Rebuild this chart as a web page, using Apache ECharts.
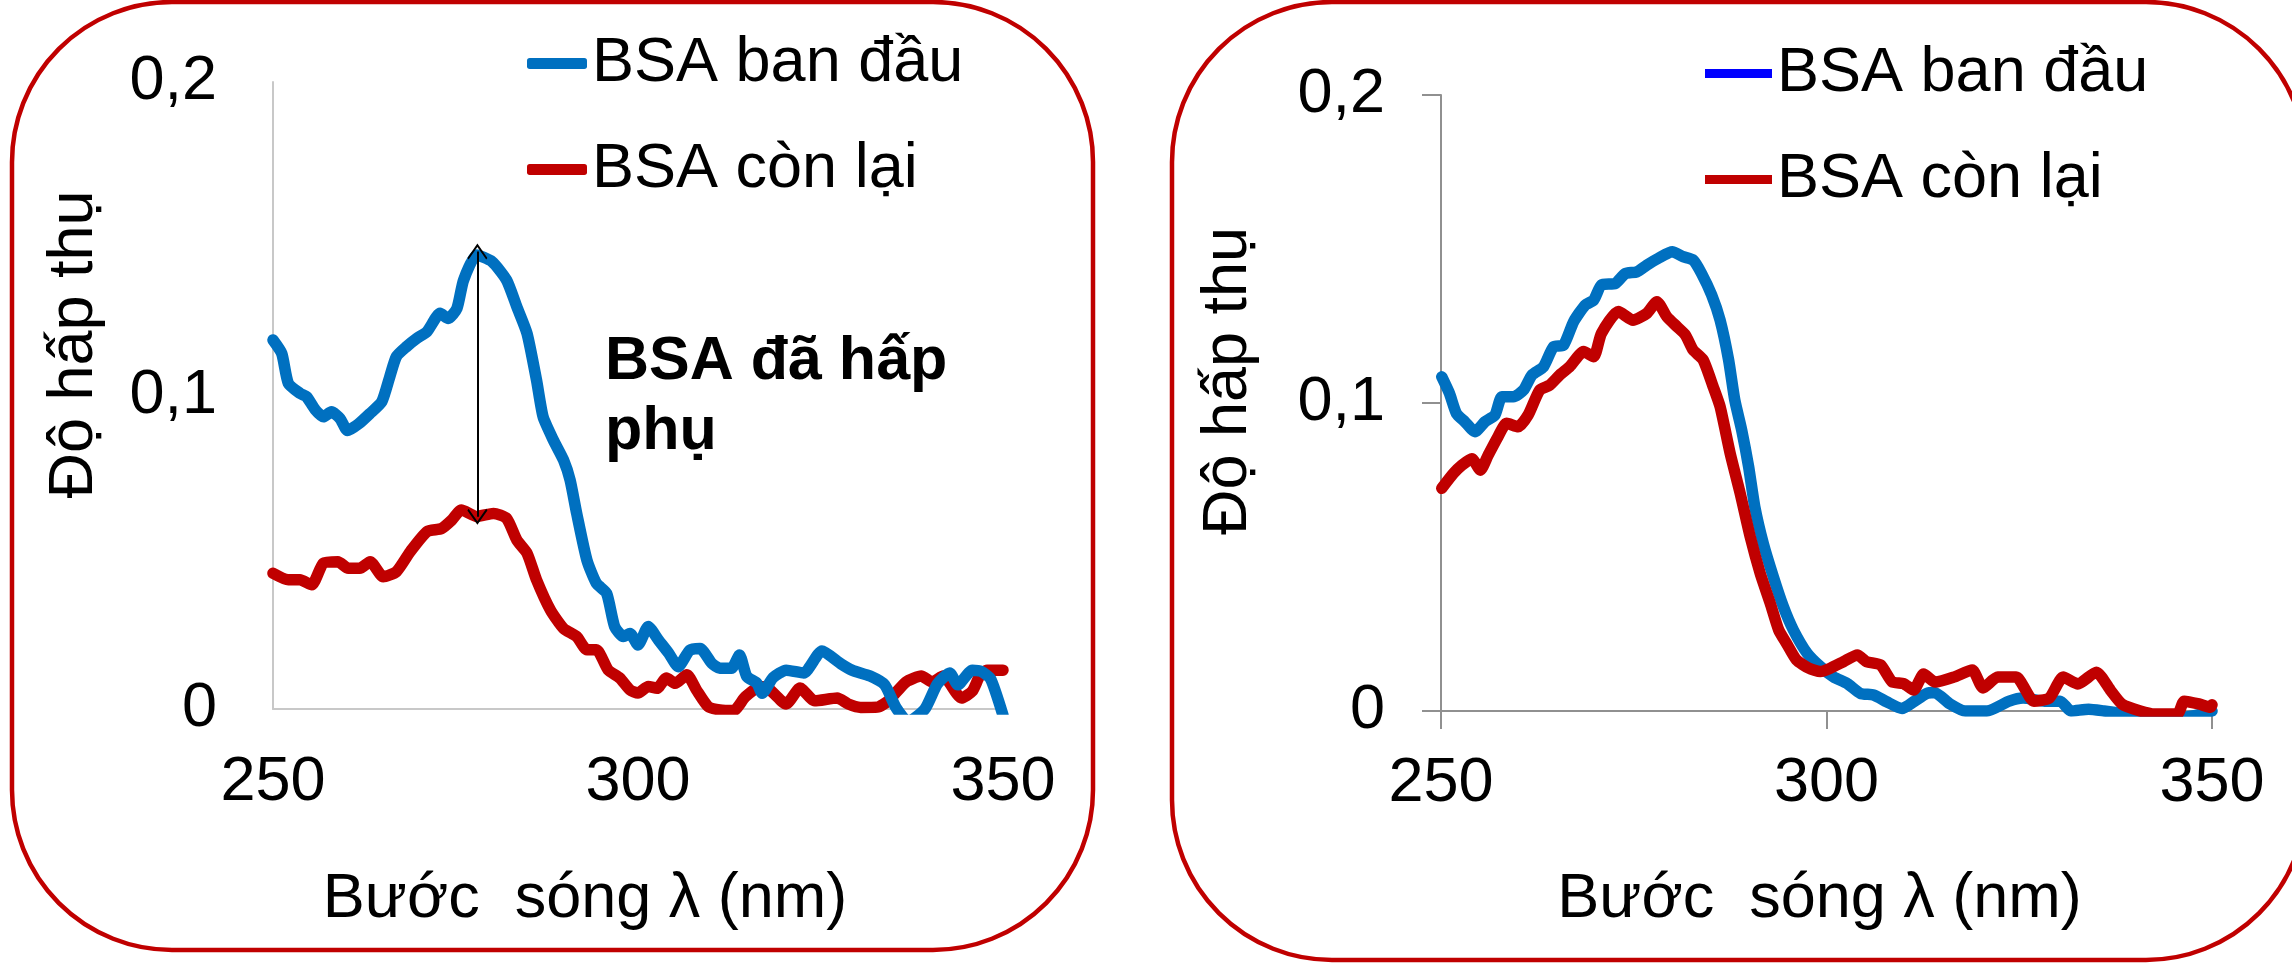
<!DOCTYPE html>
<html>
<head>
<meta charset="utf-8">
<script src="https://cdn.jsdelivr.net/npm/echarts@6/dist/echarts.min.js"></script>
<style>
html,body{margin:0;padding:0;background:#fff;}
#chart{width:2292px;height:968px;}
</style>
</head>
<body>
<div id="chart"></div>
<script>
// ---------- DATA ----------
const seriesNames = ['BSA ban đầu', 'BSA còn lại'];
const xTickLabels = ['250', '300', '350'];
const yTickLabels = ['0', '0,1', '0,2'];
const xAxisTitle = 'Bước  sóng λ (nm)';
const yAxisTitle = 'Độ hấp thụ';
const annotationText = 'BSA đã hấp\nphụ';

// Left panel – BSA ban đầu (wavelength nm, absorbance)
const leftBlueWl = [250.0,251.2,252.1,253.7,254.6,255.8,256.9,258.0,259.2,260.2,261.7,263.3,264.9,266.0,266.9,268.3,269.7,271.1,272.9,274.0,275.2,276.1,277.9,280.0,282.0,283.4,284.8,286.1,287.0,288.4,289.8,290.7,291.6,293.0,294.3,295.7,296.8,298.0,298.9,300.0,301.4,302.8,304.2,305.5,307.1,308.5,310.1,311.2,312.8,313.9,314.9,316.3,317.0,318.5,320.3,322.7,325.2,327.8,329.3,331.8,333.8,335.3,337.0,339.3,341.0,342.7,343.8,345.8,347.0,348.3,350.0];
const leftBlueAbs = [0.1177,0.1134,0.1039,0.1007,0.0996,0.0954,0.0932,0.0948,0.0926,0.0888,0.0909,0.0943,0.0980,0.1060,0.1124,0.1156,0.1182,0.1204,0.1262,0.1246,0.1278,0.1368,0.1448,0.1427,0.1368,0.1283,0.1198,0.1049,0.0932,0.0858,0.0794,0.0730,0.0624,0.0475,0.0401,0.0369,0.0263,0.0231,0.0241,0.0204,0.0263,0.0220,0.0178,0.0135,0.0188,0.0193,0.0146,0.0130,0.0130,0.0172,0.0104,0.0082,0.0050,0.0100,0.0124,0.0115,0.0185,0.0144,0.0124,0.0105,0.0077,0.0006,-0.0040,0.0000,0.0080,0.0115,0.0077,0.0124,0.0120,0.0096,-0.0020];
// Left panel – BSA còn lại
const leftRedWl = [250.0,252.1,253.7,255.3,256.9,258.9,260.3,261.9,263.3,265.1,266.9,268.8,271.1,273.1,274.5,275.8,277.9,280.2,282.0,283.4,284.8,286.1,288.0,289.8,291.6,293.0,294.3,295.9,297.5,298.9,300.0,301.4,302.6,303.9,305.1,306.7,308.0,309.6,311.2,313.1,314.7,316.8,317.8,320.3,322.2,324.2,327.3,328.8,330.5,332.8,334.3,336.7,338.8,340.3,341.8,344.3,345.8,346.8,347.8,350.0];
const leftRedAbs = [0.0433,0.0412,0.0412,0.0396,0.0465,0.0470,0.0449,0.0449,0.0470,0.0422,0.0438,0.0502,0.0566,0.0576,0.0603,0.0635,0.0614,0.0624,0.0608,0.0539,0.0497,0.0412,0.0316,0.0257,0.0231,0.0189,0.0189,0.0125,0.0099,0.0061,0.0051,0.0072,0.0066,0.0099,0.0082,0.0109,0.0061,0.0008,-0.0003,-0.0005,0.0039,0.0072,0.0067,0.0016,0.0067,0.0026,0.0035,0.0016,0.0005,0.0006,0.0026,0.0086,0.0105,0.0086,0.0105,0.0035,0.0057,0.0105,0.0124,0.0124];

// Right panel – BSA ban đầu
const rightBlueWl = [250.1,251.1,252.0,253.1,254.4,255.7,257.0,257.9,259.4,260.7,261.8,263.3,264.6,265.9,267.2,268.7,269.8,270.8,272.6,273.9,275.4,276.7,278.2,280.0,281.4,282.7,283.8,285.1,286.2,287.3,288.1,289.0,289.9,290.7,291.8,293.1,294.4,295.7,297.5,299.2,300.9,302.7,304.4,306.1,307.8,309.8,311.3,313.0,314.0,316.0,318.0,320.8,323.7,325.5,328.3,330.3,331.7,334.0,336.0,338.8,342.0,346.4,350.0];
const rightBlueAbs = [0.1085,0.1031,0.0966,0.0939,0.0907,0.0939,0.0961,0.1020,0.1020,0.1042,0.1091,0.1118,0.1183,0.1188,0.1264,0.1318,0.1334,0.1383,0.1388,0.1420,0.1426,0.1448,0.1470,0.1491,0.1475,0.1464,0.1420,0.1351,0.1269,0.1140,0.1010,0.0912,0.0793,0.0663,0.0544,0.0436,0.0339,0.0263,0.0187,0.0144,0.0111,0.0089,0.0057,0.0052,0.0030,0.0008,0.0030,0.0057,0.0060,0.0023,0.0000,0.0000,0.0032,0.0042,0.0032,0.0032,0.0000,0.0006,0.0000,-0.0010,-0.0020,-0.0020,0.0000];
// Right panel – BSA còn lại
const rightRedWl = [250.1,251.6,252.7,254.0,255.1,256.1,257.4,258.5,260.0,261.3,262.8,264.1,265.4,266.7,268.5,269.8,270.8,273.0,274.9,276.7,278.0,279.3,280.6,281.7,282.7,284.0,285.3,286.2,287.5,288.8,290.1,291.4,292.7,293.8,294.8,296.1,297.7,299.2,300.5,302.2,304.0,305.2,307.0,308.5,310.0,311.3,312.6,314.1,316.5,318.9,320.3,322.2,324.6,326.9,328.9,330.7,332.6,335.0,336.9,338.3,340.7,342.6,345.5,346.4,348.3,349.8,350.0];
const rightRedAbs = [0.0723,0.0771,0.0798,0.0819,0.0782,0.0830,0.0891,0.0934,0.0923,0.0961,0.1042,0.1058,0.1091,0.1118,0.1167,0.1150,0.1226,0.1297,0.1269,0.1291,0.1329,0.1280,0.1248,0.1221,0.1172,0.1140,0.1053,0.0988,0.0837,0.0707,0.0566,0.0447,0.0350,0.0263,0.0220,0.0166,0.0139,0.0128,0.0139,0.0160,0.0182,0.0160,0.0150,0.0095,0.0089,0.0068,0.0120,0.0094,0.0110,0.0133,0.0075,0.0110,0.0110,0.0032,0.0042,0.0110,0.0088,0.0126,0.0065,0.0023,0.0000,-0.0010,-0.0010,0.0032,0.0023,0.0012,0.0020];

// Arrow annotation (left panel): from blue peak to red peak at 278 nm
const arrowWl = 278;
const arrowTop = 0.1459;
const arrowBottom = 0.0613;

// ---------- BUILD ----------
const zip = (a, b) => a.map((v, i) => [v, b[i]]);
const FONT = '"Liberation Sans", Arial, Helvetica, sans-serif';
const BLUE = '#0070c0', RED = '#c00000';

const chart = echarts.init(document.getElementById('chart'), null, {renderer: 'canvas'});

function xAxisCfg(gridIndex, opts) {
  return {
    type: 'value', gridIndex: gridIndex, min: 250, max: 350, interval: 50,
    axisLine: {show: true, lineStyle: {color: opts.axisColor, width: 2}},
    axisTick: {show: opts.ticks, length: 18, lineStyle: {color: opts.axisColor, width: 2}},
    splitLine: {show: false},
    axisLabel: {
      color: '#000', fontFamily: FONT, fontSize: 63, margin: opts.labelMargin,
      formatter: v => xTickLabels[Math.round((v - 250) / 50)]
    },
    name: xAxisTitle, nameLocation: 'middle', nameGap: opts.nameGap,
    nameTextStyle: {color: '#000', fontFamily: FONT, fontSize: 63, padding: opts.namePadding}
  };
}
function yAxisCfg(gridIndex, opts) {
  return {
    type: 'value', gridIndex: gridIndex, min: 0, max: 0.2, interval: 0.1,
    axisLine: {show: true, lineStyle: {color: opts.axisColor, width: 2}},
    axisTick: {show: opts.ticks, length: 19, lineStyle: {color: opts.axisColor, width: 2}},
    splitLine: {show: false},
    axisLabel: {
      color: '#000', fontFamily: FONT, fontSize: 63, margin: 56,
      formatter: v => yTickLabels[Math.round(v / 0.1)]
    },
    name: yAxisTitle, nameLocation: 'middle', nameRotate: 90, nameGap: opts.nameGap,
    nameTextStyle: {color: '#000', fontFamily: FONT, fontSize: 63, padding: opts.namePadding}
  };
}
function lineSeries(name, xi, yi, data, color, extra) {
  return Object.assign({
    type: 'line', name: name, xAxisIndex: xi, yAxisIndex: yi,
    data: data, showSymbol: false, smooth: 0.2, clip: true,
    itemStyle: {color: color},
    lineStyle: {color: color, width: 11.5, cap: 'round', join: 'round'},
    emphasis: {disabled: true}, silent: true
  }, extra || {});
}

const chevron = 'path://M10,0 L20,9 L18.8,10 L10,2.2 L1.2,10 L0,9 Z';

const option = {
  animation: false,
  backgroundColor: '#ffffff',
  grid: [
    {left: 273, right: 1289, top: 82, bottom: 259, containLabel: false},
    {left: 1441, right: 80, top: 95, bottom: 257, containLabel: false}
  ],
  xAxis: [
    xAxisCfg(0, {axisColor: '#c8c8c8', ticks: false, labelMargin: 42, nameGap: 159, namePadding: [0, 106, 0, 0]}),
    xAxisCfg(1, {axisColor: '#909090', ticks: true, labelMargin: 41, nameGap: 157, namePadding: [0, 14, 0, 0]})
  ],
  yAxis: [
    yAxisCfg(0, {axisColor: '#c8c8c8', ticks: false, nameGap: 167, namePadding: [0, 0, 0, 102]}),
    yAxisCfg(1, {axisColor: '#909090', ticks: true, nameGap: 181, namePadding: [0, 0, 0, 44]})
  ],
  legend: [
    {
      orient: 'vertical', left: 527, top: 32, padding: 0, itemGap: 43,
      itemWidth: 60, itemHeight: 11, icon: 'roundRect', selectedMode: false,
      textStyle: {color: '#000', fontFamily: FONT, fontSize: 63, lineHeight: 63},
      data: [
        {name: seriesNames[0], itemStyle: {color: BLUE}},
        {name: seriesNames[1], itemStyle: {color: RED}}
      ]
    },
    {
      orient: 'vertical', left: 1705, top: 42, padding: 0, itemGap: 43,
      itemWidth: 67, itemHeight: 9, icon: 'rect', selectedMode: false,
      textStyle: {color: '#000', fontFamily: FONT, fontSize: 63, lineHeight: 63},
      data: [
        {name: seriesNames[0], itemStyle: {color: '#0000ff'}},
        {name: seriesNames[1], itemStyle: {color: RED}}
      ]
    }
  ],
  series: [
    lineSeries(seriesNames[0], 0, 0, zip(leftBlueWl, leftBlueAbs), BLUE, {
      z: 3,
      markLine: {
        silent: true, animation: false,
        symbol: [chevron, chevron], symbolSize: [20, 16],
        label: {show: false},
        lineStyle: {color: '#000', width: 2, type: 'solid'},
        emphasis: {disabled: true},
        data: [[{coord: [arrowWl, arrowTop]}, {coord: [arrowWl, arrowBottom]}]]
      }
    }),
    lineSeries(seriesNames[1], 0, 0, zip(leftRedWl, leftRedAbs), RED, {z: 2}),
    lineSeries(seriesNames[0], 1, 1, zip(rightBlueWl, rightBlueAbs), BLUE, {z: 2}),
    lineSeries(seriesNames[1], 1, 1, zip(rightRedWl, rightRedAbs), RED, {z: 3})
  ],
  graphic: [
    {type: 'rect', silent: true, z: -10,
     shape: {x: 12, y: 2, width: 1081, height: 948, r: 160},
     style: {fill: 'none', stroke: RED, lineWidth: 4.5}},
    {type: 'rect', silent: true, z: -10,
     shape: {x: 1172, y: 2, width: 1134, height: 958, r: 160},
     style: {fill: 'none', stroke: RED, lineWidth: 4.5}},
    {type: 'text', silent: true, left: 605, top: 327, z: 10,
     style: {text: annotationText, fill: '#000', font: 'bold 61px ' + FONT, lineHeight: 70}}
  ]
};
chart.setOption(option);
</script>
</body>
</html>
